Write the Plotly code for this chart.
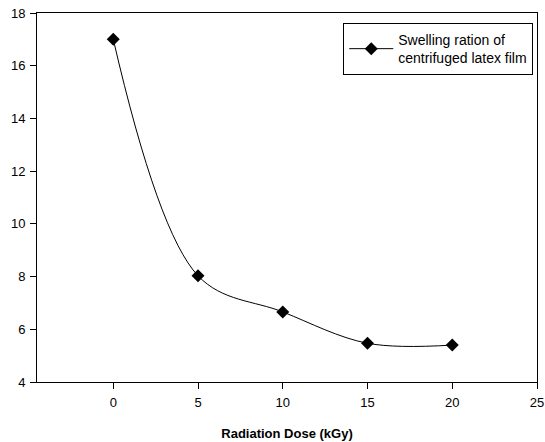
import plotly.graph_objects as go

dose = [0, 5, 10, 15, 20]
swelling = [17.0, 8.03, 6.66, 5.47, 5.40]
series_name = "Swelling ration of<br>centrifuged latex film"
x_ticks = [0, 5, 10, 15, 20, 25]
y_ticks = [4, 6, 8, 10, 12, 14, 16, 18]

fig = go.Figure()
fig.add_trace(go.Scatter(
    x=dose, y=swelling, mode="lines+markers", name=series_name,
    line=dict(color="black", width=1, shape="spline", smoothing=1),
    marker=dict(symbol="diamond", size=10, color="black"),
))

family = "Liberation Sans, Arial, sans-serif"
fig.update_layout(
    width=545, height=442,
    margin=dict(l=37, r=8, t=13, b=60),
    paper_bgcolor="white", plot_bgcolor="white",
    font=dict(family=family, size=13, color="black"),
    showlegend=True,
    legend=dict(
        x=0.9925, y=0.973, xanchor="right", yanchor="top",
        bordercolor="black", borderwidth=1, bgcolor="white",
        font=dict(family=family, size=14, color="black"),
        itemwidth=44, tracegroupgap=0,
    ),
)
fig.update_xaxes(
    range=[-4.5, 25], tickvals=x_ticks, ticks="outside", ticklen=6, tickcolor="black",
    showline=True, linecolor="black", linewidth=1, mirror=True, showgrid=False, zeroline=False,
    ticklabelstandoff=2, ticklabeloverflow="allow", tickfont=dict(size=13), automargin=False,
    title=dict(text="<b>Radiation Dose (kGy)</b>", font=dict(size=13), standoff=20),
)
fig.update_yaxes(
    range=[4, 18], tickvals=y_ticks, ticks="outside", ticklen=6, tickcolor="black",
    showline=True, linecolor="black", linewidth=1, mirror=True, showgrid=False, zeroline=False,
    tickfont=dict(size=13), ticklabelstandoff=2, automargin=False,
)
fig.write_html(
    "out.html",
    config={"displayModeBar": False},
    post_script="document.body.style.margin='0px';document.body.style.overflow='hidden';",
)
